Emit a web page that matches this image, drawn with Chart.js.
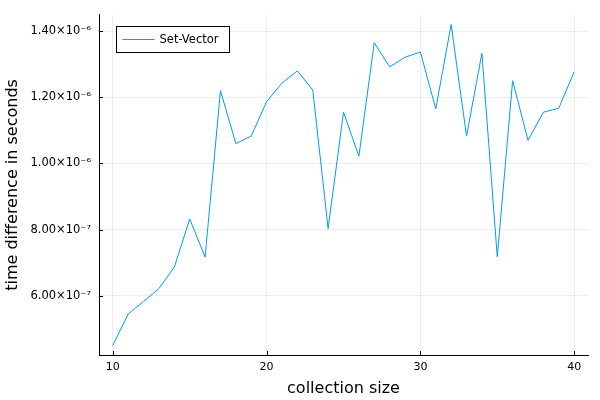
<!DOCTYPE html>
<html><head><meta charset="utf-8">
<script src="https://cdn.jsdelivr.net/npm/chart.js@4/dist/chart.umd.min.js"></script>
<style>html,body{margin:0;padding:0;background:#fff}#wrap{width:600px;height:400px}</style>
</head><body><div id="wrap"><canvas id="c" width="600" height="400"></canvas></div>
<script>
const collectionSizes = [10,11,12,13,14,15,16,17,18,19,20,21,22,23,24,25,26,27,28,29,30,31,32,33,34,35,36,37,38,39,40];
const setVectorTimes = [
  0.450e-6, 0.545e-6, 0.583e-6, 0.622e-6, 0.687e-6, 0.832e-6, 0.717e-6, 1.220e-6, 1.060e-6, 1.083e-6,
  1.187e-6, 1.243e-6, 1.280e-6, 1.222e-6, 0.803e-6, 1.155e-6, 1.022e-6, 1.365e-6, 1.292e-6, 1.321e-6,
  1.337e-6, 1.165e-6, 1.420e-6, 1.083e-6, 1.333e-6, 0.718e-6, 1.250e-6, 1.070e-6, 1.155e-6, 1.167e-6,
  1.277e-6
];
const seriesLabel = 'Set-Vector';
const xTickValues = [10, 20, 30, 40];
const yTickValues = [6e-7, 8e-7, 1e-6, 1.2e-6, 1.4e-6];
const yTickLabels = ['6.00×10⁻⁷', '8.00×10⁻⁷', '1.00×10⁻⁶', '1.20×10⁻⁶', '1.40×10⁻⁶'];

const FONT = "'DejaVu Sans', sans-serif";

function padRange(arr) {
  const lo = Math.min(...arr), hi = Math.max(...arr);
  const m = (hi - lo) * 0.03;
  return [lo - m, hi + m];
}
const [xMin, xMax] = padRange(collectionSizes);
const [yMin, yMax] = padRange(setVectorTimes);

const innerTicks = {
  id: 'innerTicks',
  afterDraw(chart) {
    const {ctx, scales: {x, y}, chartArea: ca} = chart;
    ctx.save();
    ctx.strokeStyle = '#000';
    ctx.lineWidth = 1;
    ctx.beginPath();
    xTickValues.forEach(v => {
      const px = Math.round(x.getPixelForValue(v)) + 0.5;
      ctx.moveTo(px, ca.bottom); ctx.lineTo(px, ca.bottom - 4);
    });
    yTickValues.forEach(v => {
      const py = Math.round(y.getPixelForValue(v)) + 0.5;
      ctx.moveTo(ca.left, py); ctx.lineTo(ca.left + 4, py);
    });
    ctx.stroke();
    ctx.restore();
  }
};

const boxLegend = {
  id: 'boxLegend',
  afterDraw(chart) {
    const {ctx, chartArea: ca} = chart;
    const ds = chart.data.datasets[0];
    ctx.save();
    ctx.font = '11.5px ' + FONT;
    const tw = ctx.measureText(ds.label).width;
    const bx = Math.round(ca.left + 17) + 0.5, by = Math.round(ca.top + 11) + 0.5;
    const bw = Math.round(43 + tw + 11), bh = 26;
    ctx.fillStyle = '#fff';
    ctx.fillRect(bx, by, bw, bh);
    ctx.strokeStyle = '#000';
    ctx.lineWidth = 1;
    ctx.strokeRect(bx, by, bw, bh);
    ctx.strokeStyle = ds.borderColor;
    ctx.beginPath();
    ctx.moveTo(bx + 6, by + 13); ctx.lineTo(bx + 38, by + 13);
    ctx.stroke();
    ctx.fillStyle = '#000';
    ctx.textBaseline = 'middle';
    ctx.fillText(ds.label, bx + 43, by + 13.5);
    ctx.restore();
  }
};

new Chart(document.getElementById('c'), {
  type: 'line',
  data: {
    datasets: [{
      label: seriesLabel,
      data: collectionSizes.map((s, i) => ({x: s, y: setVectorTimes[i]})),
      borderColor: '#009AFA',
      backgroundColor: '#009AFA',
      borderWidth: 1,
      pointRadius: 0,
      tension: 0,
      fill: false
    }]
  },
  options: {
    responsive: false,
    devicePixelRatio: 1,
    animation: false,
    layout: {padding: {top: 12, right: 12, left: 0, bottom: 0}},
    plugins: {legend: {display: false}, tooltip: {enabled: false}},
    scales: {
      x: {
        type: 'linear', min: xMin, max: xMax,
        afterBuildTicks: s => { s.ticks = xTickValues.map(v => ({value: v})); },
        afterFit: s => { s.height = 45; },
        ticks: {font: {family: FONT, size: 11}, color: '#000', padding: 6, maxRotation: 0, autoSkip: false,
                callback: v => String(v)},
        grid: {color: 'rgba(0,0,0,0.07)', drawTicks: false, tickLength: 0},
        border: {color: '#000', width: 1},
        title: {display: true, text: 'collection size', color: '#000', font: {family: FONT, size: 16}, padding: {top: 0, bottom: 2}}
      },
      y: {
        type: 'linear', min: yMin, max: yMax,
        afterBuildTicks: s => { s.ticks = yTickValues.map(v => ({value: v})); },
        afterFit: s => { s.width = 99; },
        ticks: {font: {family: FONT, size: 11.5}, color: '#000', padding: 8, autoSkip: false,
                callback: (v, i) => yTickLabels[i]},
        grid: {color: 'rgba(0,0,0,0.07)', drawTicks: false, tickLength: 0},
        border: {color: '#000', width: 1},
        title: {display: true, text: 'time difference in seconds', color: '#000', font: {family: FONT, size: 16}, padding: {top: 3, bottom: 0}}
      }
    }
  },
  plugins: [innerTicks, boxLegend]
});
</script>
</body></html>
